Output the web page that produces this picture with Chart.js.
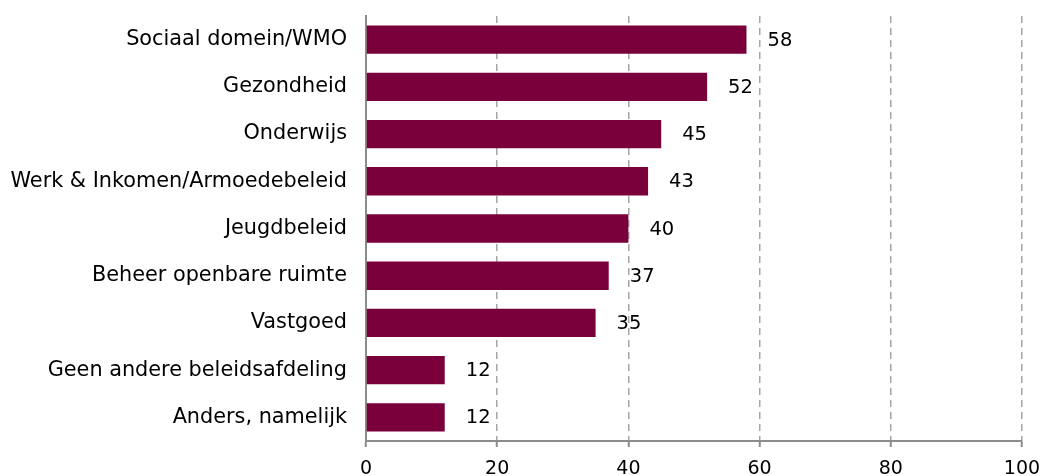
<!DOCTYPE html>
<html>
<head>
<meta charset="utf-8">
<script src="https://cdn.jsdelivr.net/npm/chart.js@4/dist/chart.umd.min.js"></script>
<style>
  html, body { margin: 0; padding: 0; background: #fff; }
  #wrap { width: 1042px; height: 476px; position: relative; }
</style>
</head>
<body>
<div id="wrap"><canvas id="c" width="1042" height="476"></canvas></div>
<script>
const categories = [
  "Sociaal domein/WMO",
  "Gezondheid",
  "Onderwijs",
  "Werk & Inkomen/Armoedebeleid",
  "Jeugdbeleid",
  "Beheer openbare ruimte",
  "Vastgoed",
  "Geen andere beleidsafdeling",
  "Anders, namelijk"
];
const values = [58, 52, 45, 43, 40, 37, 35, 12, 12];
const xTicks = [0, 20, 40, 60, 80, 100];

const FONT = "'DejaVu Sans', Verdana, sans-serif";
const BAR = "#7a003c";
const GRID = "#a6a6a6";
const AXIS = "#8c8c8c";

const valueLabels = {
  id: "valueLabels",
  afterDatasetsDraw(chart) {
    const ctx = chart.ctx;
    const meta = chart.getDatasetMeta(0);
    ctx.save();
    ctx.font = "19.5px " + FONT;
    ctx.fillStyle = "#000";
    ctx.textAlign = "left";
    ctx.textBaseline = "middle";
    meta.data.forEach((el, i) => {
      ctx.fillText(String(values[i]), el.x + 21, el.y + 1);
    });
    ctx.restore();
  }
};

new Chart(document.getElementById("c"), {
  type: "bar",
  data: {
    labels: categories,
    datasets: [{
      data: values,
      backgroundColor: BAR,
      borderWidth: 0,
      barPercentage: 0.6,
      categoryPercentage: 1.0
    }]
  },
  options: {
    indexAxis: "y",
    responsive: false,
    animation: false,
    devicePixelRatio: 1,
    layout: { padding: { top: 16, right: 20, left: 0, bottom: 0 } },
    plugins: { legend: { display: false }, tooltip: { enabled: false } },
    scales: {
      x: {
        min: 0, max: 100,
        afterBuildTicks(scale) { scale.ticks = xTicks.map(v => ({ value: v })); },
        afterFit(scale) { scale.height = 35; scale.paddingLeft = 0; scale.paddingRight = 0; },
        grid: {
          color: ctx => ctx.index === 0 ? "rgba(0,0,0,0)" : GRID,
          lineWidth: 1.5,
          drawTicks: true,
          tickLength: 6,
          tickColor: AXIS,
          tickWidth: 2,
          tickBorderDash: []
        },
        border: { display: true, color: AXIS, width: 2, dash: [7, 5] },
        ticks: {
          color: "#000",
          font: { family: FONT, size: 19 },
          padding: 11,
          maxRotation: 0
        }
      },
      y: {
        afterFit(scale) { scale.width = 366; scale.paddingTop = 0; scale.paddingBottom = 0; },
        grid: { display: true, drawOnChartArea: false, drawTicks: false },
        border: { display: true, color: AXIS, width: 2 },
        ticks: {
          color: "#000",
          font: { family: FONT, size: 20.8 },
          padding: 19
        }
      }
    }
  },
  plugins: [valueLabels]
});
</script>
</body>
</html>
